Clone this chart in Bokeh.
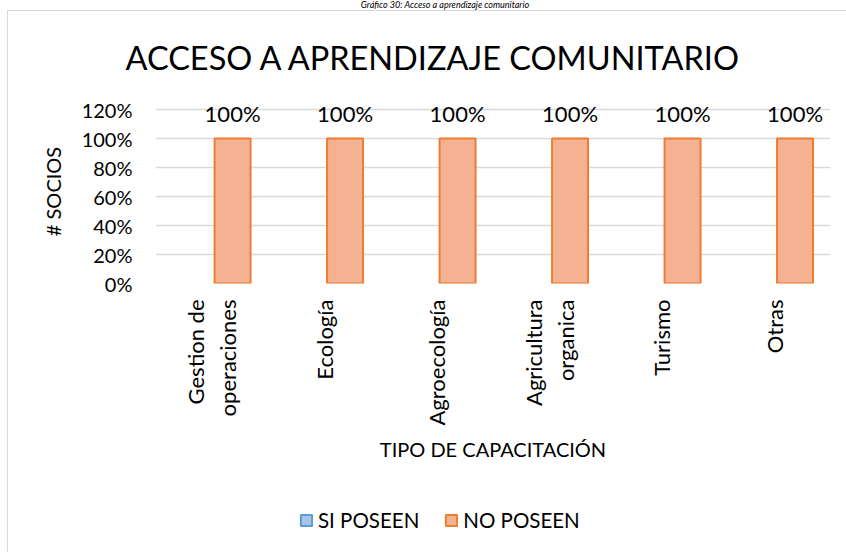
import math
from bokeh.plotting import figure
from bokeh.layouts import column, row
from bokeh.models import (ColumnDataSource, NumeralTickFormatter, FixedTicker, Legend, LegendItem,
                          Range1d, Div, Spacer)
from bokeh.transform import dodge
from bokeh.core.properties import value
from bokeh.embed import file_html
from bokeh.resources import INLINE

caption = "Gráfico 30: Acceso a aprendizaje comunitario"
categories = ["Gestion de\noperaciones", "Ecología", "Agroecología", "Agricultura\norganica", "Turismo", "Otras"]
si_poseen = [0.0, 0.0, 0.0, 0.0, 0.0, 0.0]
no_poseen = [1.0, 1.0, 1.0, 1.0, 1.0, 1.0]
y_ticks = [0, 0.2, 0.4, 0.6, 0.8, 1.0, 1.2]
title_text = "ACCESO A APRENDIZAJE COMUNITARIO"
x_title = "TIPO DE CAPACITACIÓN"
y_title = "# SOCIOS"
series_names = ["SI POSEEN", "NO POSEEN"]

FONT = "Lato"
TXT = "#000000"
SI_FILL, SI_LINE = "#a9c4e8", "#5b9bd5"
NO_FILL, NO_LINE = "#f5b293", "#ed7d31"

src = ColumnDataSource(dict(
    cat=categories,
    si=si_poseen,
    no=no_poseen,
    lbl=["{:.0%}".format(v) for v in no_poseen],
))

p = figure(x_range=categories, y_range=Range1d(0, 1.27), width=838, height=467,
           output_backend="svg", toolbar_location=None,
           min_border_left=147, min_border_right=16, min_border_top=88, min_border_bottom=195)

p.title.text = title_text
p.title.align = "left"
p.title.offset = -30
p.title.text_font = FONT
p.title.text_font_size = "32.5px"
p.title.text_font_style = "normal"
p.title.text_color = TXT
p.title.standoff = 45

p.outline_line_color = None
p.background_fill_color = "white"
p.border_fill_color = "white"

# bars (SI POSEEN values are 0, so they draw nothing visible)
p.vbar(x=dodge("cat", -0.185, range=p.x_range), top="si", width=0.32, source=src,
       fill_color=SI_FILL, line_color=None)
p.vbar(x=dodge("cat", 0.185, range=p.x_range), top="no", width=0.32, source=src,
       fill_color=NO_FILL, line_color=NO_LINE, line_width=2)

p.text(x=dodge("cat", 0.185, range=p.x_range), y="no", text="lbl", source=src,
       text_align="center", text_baseline="bottom", y_offset=-12,
       text_font=value(FONT), text_font_size="22px", text_color=TXT)

# axes
p.yaxis.ticker = FixedTicker(ticks=y_ticks)
p.yaxis.formatter = NumeralTickFormatter(format="0%")
for ax in (p.xaxis[0], p.yaxis[0]):
    ax.axis_line_color = None
    ax.major_tick_line_color = None
    ax.minor_tick_line_color = None
    ax.major_label_text_font = FONT
    ax.major_label_text_font_size = "20px"
    ax.major_label_text_color = TXT
    ax.axis_label_text_font = FONT
    ax.axis_label_text_font_size = "20px"
    ax.axis_label_text_font_style = "normal"
    ax.axis_label_text_color = TXT

p.xaxis.major_label_text_font_size = "22px"
p.yaxis.major_label_standoff = 17
p.yaxis.axis_label = y_title
p.yaxis.axis_label_standoff = 14
p.xaxis.axis_label = x_title
p.xaxis.major_label_orientation = math.pi / 2
p.xaxis.major_label_standoff = 10
p.xaxis.axis_label_standoff = 8

p.xgrid.grid_line_color = None
p.ygrid.grid_line_color = "#d9d9d9"
p.ygrid.grid_line_width = 1.5
p.ygrid.ticker = FixedTicker(ticks=y_ticks)

# legend strip (its renderers are hidden; only the legend shows)
lf = figure(width=838, height=74, x_range=p.x_range, y_range=Range1d(0, 1.3),
            output_backend="svg", toolbar_location=None,
            x_axis_location=None, y_axis_location=None,
            min_border_left=0, min_border_right=0, min_border_top=0, min_border_bottom=0)
lf.outline_line_color = None
lf.xgrid.grid_line_color = None
lf.ygrid.grid_line_color = None
lf.border_fill_color = "white"
r_si = lf.vbar(x="cat", top="si", width=0.32, source=src, fill_color=SI_FILL, line_color=SI_LINE, line_width=2)
r_no = lf.vbar(x="cat", top="no", width=0.32, source=src, fill_color=NO_FILL, line_color=NO_LINE, line_width=2)
r_si.visible = False
r_no.visible = False
legend = Legend(items=[LegendItem(label=series_names[0], renderers=[r_si], index=0),
                       LegendItem(label=series_names[1], renderers=[r_no], index=0)],
                orientation="horizontal", location=(144, 20),
                label_text_font=FONT, label_text_font_size="20.5px", label_text_color=TXT,
                glyph_width=14, glyph_height=14, label_standoff=5, spacing=25,
                padding=0, margin=0, border_line_color=None, background_fill_alpha=0,
                inactive_fill_alpha=0)
lf.add_layout(legend, "center")

cap = Div(text=caption, width=846, height=10, margin=0,
          styles={"overflow": "hidden", "font-family": "Lato", "font-style": "italic",
                  "font-size": "9px", "line-height": "10px", "text-align": "center",
                  "padding-left": "44px", "box-sizing": "border-box", "color": "#000000"})

chart = column(p, lf, spacing=0,
               styles={"border-top": "1px solid #d9d9d9", "border-left": "1px solid #d9d9d9"})
layout = column(cap, row(Spacer(width=7, height=10), chart, spacing=0), spacing=0)
open("out.html", "w").write(file_html(layout, INLINE))
